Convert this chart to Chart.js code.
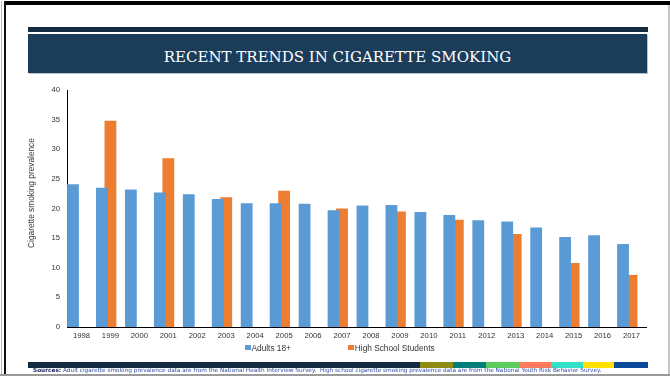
<!DOCTYPE html>
<html>
<head>
<meta charset="utf-8">
<title>Recent Trends in Cigarette Smoking</title>
<script src="https://cdn.jsdelivr.net/npm/chart.js@4/dist/chart.umd.min.js"></script>
<style>
  html, body { margin: 0; padding: 0; background: #fff; }
  #page { position: relative; width: 670px; height: 376px; overflow: hidden; background: #fff;
          font-family: "Liberation Sans", Arial, sans-serif; }
  .abs { position: absolute; }
  .frame-top { left: 4px; top: 1px; width: 666px; height: 4px; background: #000; }
  .frame-left { left: 4px; top: 1px; width: 2px; height: 374px; background: #111; }
  .frame-left-outer { left: 1px; top: 1px; width: 1px; height: 374px; background: #bbb; }
  .frame-right { left: 668px; top: 5px; width: 2px; height: 370px; background: #c4c4c4; }
  .frame-bottom { left: 0; top: 374px; width: 670px; height: 2px; background: #9a9a9a; }
  .head-bar { left: 28px; top: 27px; width: 620px; height: 5px; background: #142b41; }
  .title-box { left: 28px; top: 34px; width: 619px; height: 39px; background: #1b3d5a;
               box-shadow: 1px 1px 0 #b7c2cb; }
  .title-text { left: 28px; top: 48.4px; width: 619px; text-align: center; color: #fff;
                font-family: "DejaVu Serif", serif; font-size: 15px; line-height: 18px;
                white-space: nowrap; }
  #chart { left: 0; top: 0; }
  .y-title { width: 200px; text-align: center; font-size: 8.3px; line-height: 10px; color: #333;
             white-space: nowrap; transform: rotate(-90deg); transform-origin: 50% 50%; }
  .legend-box { width: 5.5px; height: 5.5px; }
  .legend-text { font-size: 8.3px; line-height: 10px; color: #333; white-space: nowrap; }
  .band { top: 362px; height: 6px; }
  .sources { left: 33px; top: 366px; line-height: 8px; white-space: nowrap; color: #2f4f9f;
             font-family: "DejaVu Sans", sans-serif; font-size: 5.5px; }
  .sources b { color: #1c2c60; }
</style>
</head>
<body>
<div id="page">
  <div class="abs frame-left-outer"></div>
  <div class="abs frame-top"></div>
  <div class="abs frame-left"></div>
  <div class="abs frame-right"></div>
  <div class="abs frame-bottom"></div>

  <div class="abs head-bar"></div>
  <div class="abs title-box"></div>
  <div class="abs title-text">RECENT TRENDS IN CIGARETTE SMOKING</div>

  <canvas id="chart" class="abs" width="670" height="376"></canvas>

  <div class="abs y-title" id="yTitle"></div>
  <div id="legend"></div>

  <div id="bands"></div>
  <div class="abs sources" id="sources"><b>Sources:</b> Adult cigarette smoking prevalence data are from the National Health Interview Survey.&nbsp; High school cigarette smoking prevalence data are from the National Youth Risk Behavior Survey.</div>
</div>

<script>
// Survey years on the category axis
const years = ['1998', '1999', '2000', '2001', '2002', '2003', '2004', '2005', '2006', '2007',
               '2008', '2009', '2010', '2011', '2012', '2013', '2014', '2015', '2016', '2017'];

// Adult (18+) cigarette smoking prevalence, %
const adultRates = [24.1, 23.5, 23.2, 22.7, 22.4, 21.6, 20.9, 20.9, 20.8, 19.7,
                    20.5, 20.6, 19.4, 18.9, 18.0, 17.8, 16.8, 15.2, 15.5, 14.0];

// High school student prevalence, %, surveyed every other year
const studentRates = [null, 34.8, null, 28.5, null, 21.9, null, 23.0, null, 20.0,
                      null, 19.5, null, 18.1, null, 15.7, null, 10.8, null, 8.8];

const seriesNames = ['Adults 18+', 'High School Students'];
const seriesColors = ['#5b9bd5', '#ed7d31'];

const yAxisTitle = 'Cigarette smoking prevalence';
const yMin = 0, yMax = 40, yStep = 5;

// Strip of accent colours along the footer: [left, right, colour]
const footerBands = [
  [28, 420, '#132b40'], [420, 453, '#8e8c12'], [453, 486, '#007f7b'], [486, 520, '#5ccd5c'],
  [520, 551, '#ff7a5a'], [551, 583, '#33e0c8'], [583, 614, '#ffe000'], [614, 648, '#0b4a9a']
];

const tickFont = { family: '"Liberation Sans", Arial, sans-serif', size: 7.7 };

new Chart(document.getElementById('chart'), {
  type: 'bar',
  data: {
    labels: years,
    datasets: [
      { label: seriesNames[0], data: adultRates, backgroundColor: seriesColors[0] },
      { label: seriesNames[1], data: studentRates, backgroundColor: seriesColors[1] },
      // empty third slot keeps each year's pair on the left of its category
      { label: 'spacer', data: [], backgroundColor: 'rgba(0,0,0,0)' }
    ]
  },
  options: {
    responsive: false,
    animation: false,
    datasets: { bar: { categoryPercentage: 0.881, barPercentage: 1.39, borderWidth: 0 } },
    layout: { padding: { left: 33, right: 24, top: 90, bottom: 29 } },
    plugins: { legend: { display: false }, tooltip: { enabled: false } },
    scales: {
      x: {
        grid: { display: false, drawTicks: false },
        border: { display: true, color: '#000', width: 1 },
        ticks: { color: '#333', font: tickFont, padding: 4, maxRotation: 0, autoSkip: false },
        afterFit(scale) { scale.height = 20; }
      },
      y: {
        min: yMin, max: yMax,
        grid: { display: false, drawTicks: false },
        border: { display: true, color: '#000', width: 1 },
        ticks: { stepSize: yStep, color: '#333', font: tickFont, padding: 7 },
        afterFit(scale) { scale.width = 34; }
      }
    }
  }
});

// Rotated axis title
const yTitle = document.getElementById('yTitle');
yTitle.textContent = yAxisTitle;
yTitle.style.left = (30.7 - 100) + 'px';
yTitle.style.top = (193 - 5) + 'px';

// Legend below the axis
const legend = document.getElementById('legend');
const legendSpots = [245, 348.3];
seriesNames.forEach((name, i) => {
  const box = document.createElement('div');
  box.className = 'abs legend-box';
  box.style.left = legendSpots[i] + 'px';
  box.style.top = '344.8px';
  box.style.background = seriesColors[i];
  legend.appendChild(box);
  const txt = document.createElement('div');
  txt.className = 'abs legend-text';
  txt.style.left = (legendSpots[i] + 6.5) + 'px';
  txt.style.top = '342.6px';
  txt.textContent = name;
  legend.appendChild(txt);
});

// Footer colour strip
const bands = document.getElementById('bands');
footerBands.forEach(([l, r, c]) => {
  const d = document.createElement('div');
  d.className = 'abs band';
  d.style.left = l + 'px';
  d.style.width = (r - l) + 'px';
  d.style.background = c;
  bands.appendChild(d);
});

// Fit the source note to its line
const src = document.getElementById('sources');
const w = src.getBoundingClientRect().width;
src.style.fontSize = (5.5 * 569 / w) + 'px';
</script>
</body>
</html>
